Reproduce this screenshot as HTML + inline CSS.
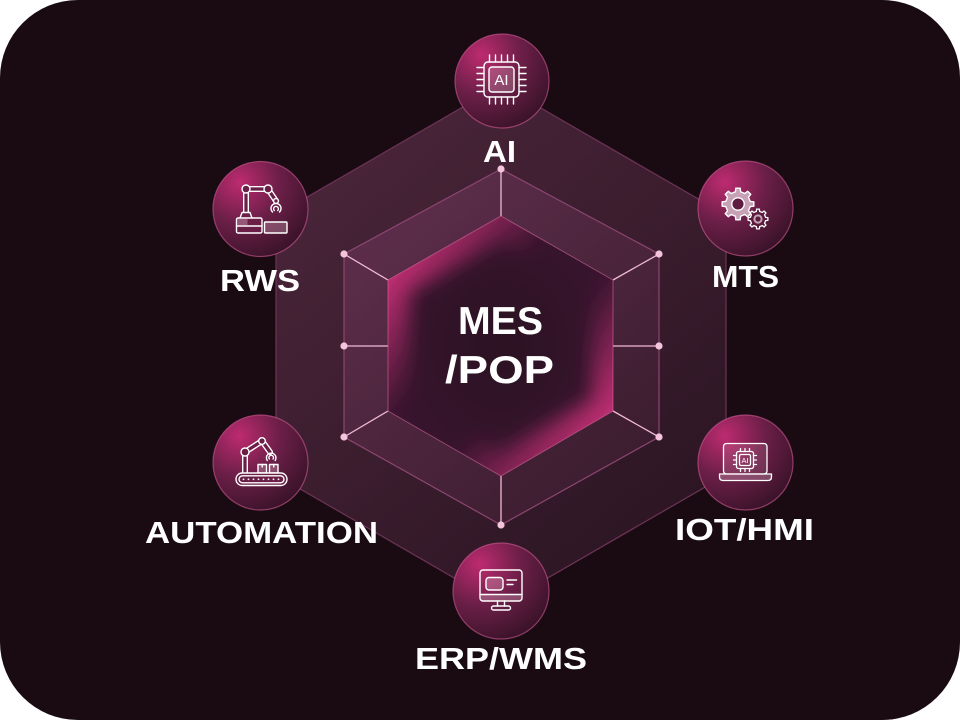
<!DOCTYPE html>
<html>
<head>
<meta charset="utf-8">
<style>
  html,body{margin:0;padding:0;background:#ffffff;}
  svg{display:block;}
  .lbl{font-family:"Liberation Sans",Arial,sans-serif;font-weight:700;fill:#ffffff;}
</style>
</head>
<body>
<svg xmlns="http://www.w3.org/2000/svg" width="960" height="720" viewBox="0 0 960 720">
  <defs>
    <linearGradient id="gOuter" gradientUnits="userSpaceOnUse" x1="276" y1="85" x2="726" y2="605">
      <stop offset="0" stop-color="#4e273c"/>
      <stop offset="1" stop-color="#271320"/>
    </linearGradient>
    <linearGradient id="gMid" gradientUnits="userSpaceOnUse" x1="344" y1="169" x2="659" y2="525">
      <stop offset="0" stop-color="#62304f"/>
      <stop offset="1" stop-color="#361a2a"/>
    </linearGradient>
    <radialGradient id="gInner" cx="0.5" cy="0.5" r="0.6">
      <stop offset="0" stop-color="#2b1222"/>
      <stop offset="1" stop-color="#3a1530"/>
    </radialGradient>
    <radialGradient id="gCirc" cx="0.28" cy="0.22" r="0.85">
      <stop offset="0" stop-color="#bd2b70"/>
      <stop offset="0.5" stop-color="#6c1f48"/>
      <stop offset="1" stop-color="#3a1329"/>
    </radialGradient>
    <linearGradient id="gGlow" gradientUnits="userSpaceOnUse" x1="388" y1="250" x2="613" y2="440">
      <stop offset="0" stop-color="#d8337f" stop-opacity="1"/>
      <stop offset="0.38" stop-color="#d8337f" stop-opacity="0"/>
      <stop offset="0.62" stop-color="#d8337f" stop-opacity="0"/>
      <stop offset="1" stop-color="#d8337f" stop-opacity="1"/>
    </linearGradient>
    <clipPath id="cInner">
      <polygon points="501,216 613,280 613,411 501,476 388,411 388,280"/>
    </clipPath>
    <filter id="fBlur" x="-30%" y="-30%" width="160%" height="160%">
      <feGaussianBlur stdDeviation="9"/>
    </filter>
  </defs>

  <!-- background -->
  <rect x="0" y="0" width="960" height="720" fill="#ffffff"/>
  <rect x="0" y="0" width="960" height="720" rx="78" ry="78" fill="#1a0b13"/>

  <!-- outer hex -->
  <polygon points="501,85 726,215 726,475 501,605 276,475 276,215" fill="url(#gOuter)" stroke="#6e3357" stroke-width="1.2"/>
  <!-- middle hex -->
  <polygon points="501,169 659,254 659,437 501,525 344,437 344,254" fill="url(#gMid)" stroke="#8c4671" stroke-width="1.2"/>

  <!-- spokes -->
  <g stroke="#f0bad4" stroke-width="1.3" fill="none">
    <line x1="501" y1="169" x2="501" y2="216"/>
    <line x1="344" y1="254" x2="388" y2="280"/>
    <line x1="344" y1="346" x2="388" y2="346"/>
    <line x1="344" y1="437" x2="388" y2="411"/>
    <line x1="501" y1="525" x2="501" y2="476"/>
    <line x1="659" y1="437" x2="613" y2="411"/>
    <line x1="659" y1="346" x2="613" y2="346"/>
    <line x1="659" y1="254" x2="613" y2="280"/>
  </g>

  <!-- inner hex -->
  <polygon points="501,216 613,280 613,411 501,476 388,411 388,280" fill="url(#gInner)"/>
  <g clip-path="url(#cInner)">
    <polygon points="501,216 613,280 613,411 501,476 388,411 388,280" fill="none" stroke="url(#gGlow)" stroke-width="44" filter="url(#fBlur)"/>
  </g>
  <polygon points="501,216 613,280 613,411 501,476 388,411 388,280" fill="none" stroke="#e874ad" stroke-opacity="0.5" stroke-width="1"/>

  <!-- dots -->
  <g fill="#f4c4dc">
    <circle cx="501" cy="169" r="3.6"/>
    <circle cx="344" cy="254" r="3.6"/>
    <circle cx="344" cy="346" r="3.6"/>
    <circle cx="344" cy="437" r="3.6"/>
    <circle cx="501" cy="525" r="3.6"/>
    <circle cx="659" cy="437" r="3.6"/>
    <circle cx="659" cy="346" r="3.6"/>
    <circle cx="659" cy="254" r="3.6"/>
  </g>

  <!-- center text -->
  <text class="lbl" x="458" y="334" font-size="39" textLength="85" lengthAdjust="spacingAndGlyphs">MES</text>
  <text class="lbl" x="445" y="383" font-size="39" textLength="109" lengthAdjust="spacingAndGlyphs">/POP</text>

  <!-- circles -->
  <g fill="url(#gCirc)" stroke="#d25a95" stroke-opacity="0.6" stroke-width="1.2">
    <circle cx="502" cy="81" r="47"/>
    <circle cx="260.5" cy="209" r="47.5"/>
    <circle cx="745.5" cy="208.5" r="47.5"/>
    <circle cx="260.5" cy="462.5" r="47.5"/>
    <circle cx="745.5" cy="462.5" r="47.5"/>
    <circle cx="501" cy="591" r="48"/>
  </g>

  <!-- AI chip icon -->
  <g stroke="#ffffff" stroke-width="1.4" fill="none" stroke-linecap="round" stroke-linejoin="round">
    <rect x="484" y="62" width="35" height="35" rx="4"/>
    <rect x="489" y="67" width="25" height="25" rx="3" fill="#ffdcea" fill-opacity="0.22"/>
    <path d="M489.5,55 V62 M495.5,55 V62 M501.5,55 V62 M507.5,55 V62 M513.5,55 V62"/>
    <path d="M489.5,97 V104 M495.5,97 V104 M501.5,97 V104 M507.5,97 V104 M513.5,97 V104"/>
    <path d="M477,67.5 H484 M477,73.5 H484 M477,79.5 H484 M477,85.5 H484 M477,91.5 H484"/>
    <path d="M519,67.5 H526 M519,73.5 H526 M519,79.5 H526 M519,85.5 H526 M519,91.5 H526"/>
  </g>
  <text x="501.5" y="85" font-family="Liberation Sans, Arial, sans-serif" font-size="15" fill="#ffffff" text-anchor="middle">AI</text>

  <!-- RWS robot icon -->
  <g stroke-linecap="round" stroke-linejoin="round" fill="none">
    <path d="M246,193 L246,213" stroke="#ffffff" stroke-width="6"/>
    <path d="M246,193 L246,213" stroke="#6a1f47" stroke-width="3.2"/>
    <path d="M246,189 L268,189" stroke="#ffffff" stroke-width="6"/>
    <path d="M246,189 L268,189" stroke="#6a1f47" stroke-width="3.2"/>
    <path d="M268,189 L276,201" stroke="#ffffff" stroke-width="6"/>
    <path d="M268,189 L276,201" stroke="#6a1f47" stroke-width="3.2"/>
    <g stroke="#ffffff" stroke-width="1.4">
      <path d="M240,218 L242,212.5 L250,212.5 L252,218" fill="#6a1f47"/>
      <rect x="236.5" y="218" width="25.5" height="15" rx="1.5" fill="#6a1f47"/>
      <rect x="237.5" y="219" width="10" height="6" fill="#ffdcea" fill-opacity="0.3" stroke="none"/>
      <line x1="236.5" y1="226" x2="262" y2="226"/>
      <rect x="264.5" y="222" width="22.5" height="11" rx="1" fill="#ffdcea" fill-opacity="0.25"/>
      <circle cx="246" cy="189" r="4" fill="#6a1f47"/>
      <circle cx="268" cy="189" r="4" fill="#6a1f47"/>
      <circle cx="276" cy="201" r="2.4" fill="#6a1f47"/>
      <path d="M272.5,212 A5,5 0 1 1 279.5,212"/>
      <path d="M274.3,210.5 A2.4,2.4 0 1 1 277.7,210.5"/>
    </g>
  </g>

  <!-- MTS gears icon -->
  <g stroke="#ffffff" stroke-linejoin="round">
    <g transform="translate(758,219)">
      <path d="M7.63,-1.62 L9.9,-1.39 L9.9,1.39 L7.63,1.62 L6.54,4.25 L7.99,6.02 L6.02,7.99 L4.25,6.54 L1.62,7.63 L1.39,9.9 L-1.39,9.9 L-1.62,7.63 L-4.25,6.54 L-6.02,7.99 L-7.99,6.02 L-6.54,4.25 L-7.63,1.62 L-9.9,1.39 L-9.9,-1.39 L-7.63,-1.62 L-6.54,-4.25 L-7.99,-6.02 L-6.02,-7.99 L-4.25,-6.54 L-1.62,-7.63 L-1.39,-9.9 L1.39,-9.9 L1.62,-7.63 L4.25,-6.54 L6.02,-7.99 L7.99,-6.02 L6.54,-4.25 Z" fill="#5a1b3d" stroke-width="1.3"/>
      <circle cx="0" cy="0" r="3.6" fill="none" stroke="#c7a2b6" stroke-width="2"/>
    </g>
    <g transform="translate(738,204) scale(1.6)">
      <path d="M7.63,-1.62 L9.9,-1.39 L9.9,1.39 L7.63,1.62 L6.54,4.25 L7.99,6.02 L6.02,7.99 L4.25,6.54 L1.62,7.63 L1.39,9.9 L-1.39,9.9 L-1.62,7.63 L-4.25,6.54 L-6.02,7.99 L-7.99,6.02 L-6.54,4.25 L-7.63,1.62 L-9.9,1.39 L-9.9,-1.39 L-7.63,-1.62 L-6.54,-4.25 L-7.99,-6.02 L-6.02,-7.99 L-4.25,-6.54 L-1.62,-7.63 L-1.39,-9.9 L1.39,-9.9 L1.62,-7.63 L4.25,-6.54 L6.02,-7.99 L7.99,-6.02 L6.54,-4.25 Z" fill="#c7a2b6" stroke-width="0.85"/>
      <circle cx="0" cy="0" r="3.9" fill="#5e1b40" stroke-width="0.85"/>
    </g>
  </g>

  <!-- AUTOMATION icon -->
  <g stroke-linecap="round" stroke-linejoin="round" fill="none">
    <path d="M245,472 L245,452 L262,441 L270,452" stroke="#ffffff" stroke-width="6"/>
    <path d="M245,472 L245,452 L262,441 L270,452" stroke="#6a1f47" stroke-width="3.2"/>
    <g stroke="#ffffff" stroke-width="1.4">
      <circle cx="245" cy="452" r="4" fill="#6a1f47"/>
      <circle cx="262" cy="441" r="3.3" fill="#6a1f47"/>
      <path d="M267.2,460.5 A4.8,4.8 0 1 1 275.2,460.5"/>
      <path d="M269.4,459 A2.3,2.3 0 1 1 273,459"/>
      <rect x="258" y="464.5" width="8.5" height="8.5" fill="#ffdcea" fill-opacity="0.25"/>
      <rect x="269.5" y="464.5" width="8.5" height="8.5" fill="#ffdcea" fill-opacity="0.25"/>
      <path d="M262.2,464.5 V467 M273.7,464.5 V467"/>
      <rect x="236" y="473" width="51" height="12.5" rx="6.2" fill="#6a1f47"/>
      <rect x="239" y="475.8" width="45" height="7" rx="3.5"/>
    </g>
    <g fill="#ffffff">
      <circle cx="243.5" cy="479.3" r="0.9"/>
      <circle cx="248.5" cy="479.3" r="0.9"/>
      <circle cx="253.5" cy="479.3" r="0.9"/>
      <circle cx="258.5" cy="479.3" r="0.9"/>
      <circle cx="263.5" cy="479.3" r="0.9"/>
      <circle cx="268.5" cy="479.3" r="0.9"/>
      <circle cx="273.5" cy="479.3" r="0.9"/>
      <circle cx="278.5" cy="479.3" r="0.9"/>
    </g>
  </g>

  <!-- IOT/HMI laptop icon -->
  <g stroke="#ffffff" stroke-width="1.3" fill="none" stroke-linecap="round" stroke-linejoin="round">
    <rect x="723.5" y="443.5" width="43.5" height="30.5" rx="3" fill="#ffdcea" fill-opacity="0.12"/>
    <path d="M719.5,474 L771.5,474 L771.5,477 Q771.5,480.5 768,480.5 L723,480.5 Q719.5,480.5 719.5,477 Z" fill="#ffdcea" fill-opacity="0.25"/>
    <rect x="736.5" y="451.5" width="17" height="17" rx="2"/>
    <rect x="739.5" y="454.5" width="11" height="11" rx="1.5"/>
    <path d="M740.5,448.5 V451.5 M745,448.5 V451.5 M749.5,448.5 V451.5"/>
    <path d="M740.5,468.5 V471.5 M745,468.5 V471.5 M749.5,468.5 V471.5"/>
    <path d="M733.5,455.5 H736.5 M733.5,460 H736.5 M733.5,464.5 H736.5"/>
    <path d="M753.5,455.5 H756.5 M753.5,460 H756.5 M753.5,464.5 H756.5"/>
  </g>
  <text x="745" y="462.8" font-family="Liberation Sans, Arial, sans-serif" font-size="7.5" fill="#ffffff" text-anchor="middle">AI</text>

  <!-- ERP/WMS monitor icon -->
  <g stroke="#ffffff" stroke-width="1.4" fill="none" stroke-linecap="round" stroke-linejoin="round">
    <rect x="481" y="594.5" width="40" height="6" fill="#ffdcea" fill-opacity="0.25" stroke="none"/>
    <rect x="480" y="570" width="42" height="31" rx="3"/>
    <line x1="480" y1="594.5" x2="522" y2="594.5"/>
    <rect x="486" y="577.5" width="17" height="12.5" rx="3" fill="#ffdcea" fill-opacity="0.25"/>
    <path d="M507,580 H516.5 M507,584.5 H513"/>
    <path d="M497.5,601 V606 M504.5,601 V606"/>
    <rect x="491.5" y="606" width="19" height="4" rx="2"/>
  </g>

  <!-- labels -->
  <text class="lbl" x="483" y="162" font-size="31" textLength="33" lengthAdjust="spacingAndGlyphs">AI</text>
  <text class="lbl" x="220" y="291" font-size="31" textLength="80" lengthAdjust="spacingAndGlyphs">RWS</text>
  <text class="lbl" x="712" y="287" font-size="31" textLength="67" lengthAdjust="spacingAndGlyphs">MTS</text>
  <text class="lbl" x="145" y="543" font-size="31" textLength="233" lengthAdjust="spacingAndGlyphs">AUTOMATION</text>
  <text class="lbl" x="675" y="540" font-size="31" textLength="139" lengthAdjust="spacingAndGlyphs">IOT/HMI</text>
  <text class="lbl" x="415" y="669" font-size="31" textLength="172" lengthAdjust="spacingAndGlyphs">ERP/WMS</text>
</svg>
</body>
</html>
